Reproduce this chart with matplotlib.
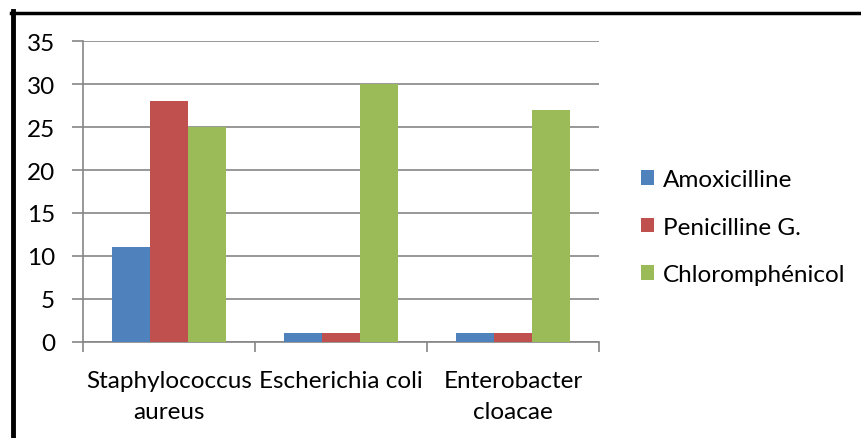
import numpy as np
import matplotlib.pyplot as plt
from matplotlib.lines import Line2D

# Bacterial strains and antibiotic results
categories = ["Staphylococcus\naureus", "Escherichia coli", "Enterobacter\ncloacae"]
amoxicilline = [11, 1, 1]
penicilline_g = [28, 1, 1]
chloramphenicol = [25, 30, 27]
series_names = ["Amoxicilline", "Penicilline G.", "Chloromphénicol"]
colors = ["#4F81BD", "#C0504D", "#9BBB59"]
yticks = [0, 5, 10, 15, 20, 25, 30, 35]

plt.rcParams["font.family"] = ["Lato", "DejaVu Sans"]
FS = 17.5

fig = plt.figure(figsize=(8.62, 4.39), dpi=100)
ax = fig.add_axes([0.0963, 0.2187, 0.5986, 0.6856])

x = np.arange(len(categories))
width = 1 / 4.5
values = [amoxicilline, penicilline_g, chloramphenicol]
for i, (vals, name, col) in enumerate(zip(values, series_names, colors)):
    ax.bar(x + (i - 1) * width, vals, width, color=col, label=name, zorder=3)

ax.set_xlim(-0.5, len(categories) - 0.5)
ax.set_ylim(0, 35)
ax.set_yticks(yticks)
ax.yaxis.grid(True, color="#868686", linewidth=1.2, zorder=0)

# category separators as tick marks below the axis
ax.set_xticks(np.arange(len(categories) + 1) - 0.5, minor=True)
ax.set_xticks(x)
ax.set_xticklabels(categories, fontsize=FS, linespacing=1.6)
ax.tick_params(axis="x", which="major", length=0, pad=20)
ax.tick_params(axis="x", which="minor", length=7, color="#868686", width=1.2)
ax.tick_params(axis="y", length=8, color="#868686", width=1.2, labelsize=FS, pad=12)

for side in ["top", "right"]:
    ax.spines[side].set_visible(False)
for side in ["left", "bottom"]:
    ax.spines[side].set_color("#868686")
    ax.spines[side].set_linewidth(1.2)

ax.legend(loc="center left", bbox_to_anchor=(1.062, 0.382), frameon=False,
          fontsize=FS, handlelength=0.55, handleheight=0.55,
          labelspacing=1.1, handletextpad=0.35, borderaxespad=0)

# outer frame: thick left edge and top edge
fig.add_artist(Line2D([13 / 862, 13 / 862], [0, 1 - 12 / 439],
                      color="black", linewidth=3.5, transform=fig.transFigure))
fig.add_artist(Line2D([11 / 862, 1], [1 - 13.5 / 439, 1 - 13.5 / 439],
                      color="black", linewidth=2.5, transform=fig.transFigure))

fig.savefig("out.png", dpi=100)
